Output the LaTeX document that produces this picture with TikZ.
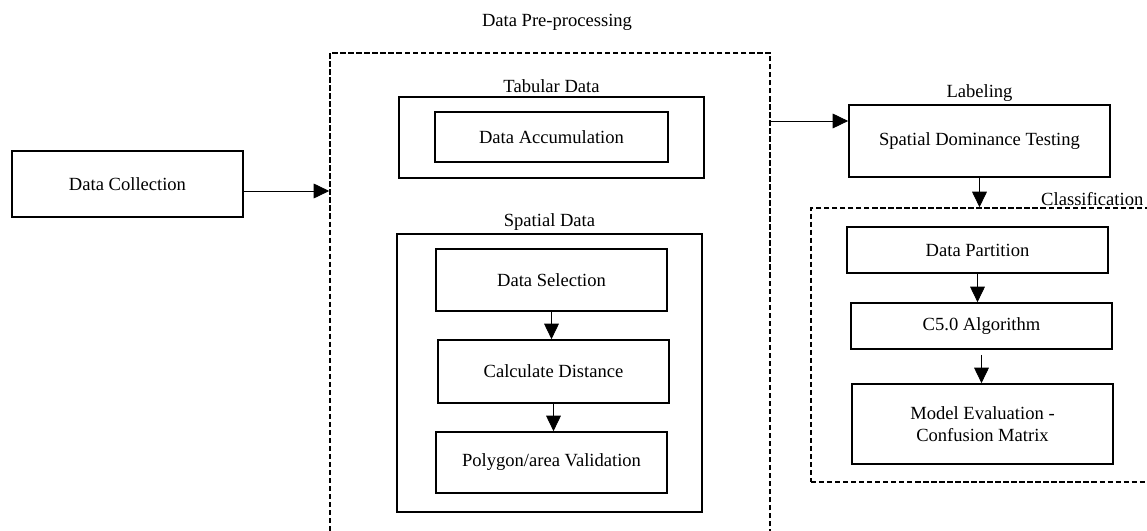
\documentclass[tikz,border=0pt]{standalone}
\usepackage{fontspec}
\setmainfont{Liberation Serif}
\usetikzlibrary{arrows.meta,positioning}
\begin{document}
\begin{tikzpicture}[x=0.025cm, y=-0.025cm,
    font=\fontsize{13.2}{15.5}\selectfont,
    box/.style={draw, line width=1.2pt, rectangle, inner sep=0pt, align=center},
    group/.style={draw, line width=1.1pt, dash pattern=on 3.8pt off 1.9pt, rectangle, inner sep=0pt},
    lbl/.style={inner sep=1pt},
    arr/.style={-{Triangle[length=11pt,width=10.5pt]}, line width=0.6pt}]
    \useasboundingbox (0,0) rectangle (1147,531);
    % Groups
    \node[group, minimum width=11cm, minimum height=12.05cm] (pre) at (550,294) {};
    \node[group, minimum width=8.525cm, minimum height=6.85cm] (cls) at (981.5,345) {};
    \node[lbl] (prelbl) at (557,22) {Data Pre-processing};
    \node[lbl, anchor=south east] (clslbl) at (1145,207) {Classification};
    % Data Collection
    \node[box, minimum width=5.775cm, minimum height=1.65cm] (coll) at (127.5,184) {Data Collection};
    % Tabular Data
    \node[box, minimum width=7.625cm, minimum height=2.025cm] (tab) at (551.5,137.5) {};
    \node[lbl, above=1pt of tab] (tablbl) {Tabular Data};
    \node[box, minimum width=5.825cm, minimum height=1.25cm] (acc) at (551.5,137) {Data Accumulation};
    % Spatial Data
    \node[box, minimum width=7.625cm, minimum height=6.95cm] (spa) at (549.5,373) {};
    \node[lbl, above=1pt of spa] (spalbl) {Spatial Data};
    \node[box, minimum width=5.775cm, minimum height=1.55cm] (sel) at (551.5,280) {Data Selection};
    \node[box, minimum width=5.775cm, minimum height=1.575cm] (dist) at (553.5,371.5) {Calculate Distance};
    \node[box, minimum width=5.775cm, minimum height=1.525cm] (poly) at (551.5,462.5) {Polygon/area Validation};
    % Labeling
    \node[box, minimum width=6.525cm, minimum height=1.8cm] (dom) at (979.5,141) {Spatial Dominance Testing};
    \node[lbl, above=1pt of dom] (domlbl) {Labeling};
    % Classification
    \node[box, minimum width=6.525cm, minimum height=1.15cm] (part) at (977.5,250) {Data Partition};
    \node[box, minimum width=6.525cm, minimum height=1.15cm] (algo) at (981.5,326) {C5.0 Algorithm};
    \node[box, minimum width=6.525cm, minimum height=2cm] (eval) at (982.5,424) {Model Evaluation -\\Confusion Matrix};
    % Arrows
    \coordinate (domin) at ([yshift=0.5cm]dom.west);
    \draw[arr] ([yshift=-0.175cm]coll.east) -- ([yshift=-0.175cm]coll.east -| pre.west);
    \draw[arr] (domin -| pre.east) -- (domin);
    \draw[arr] (sel.south) -- (sel.south |- dist.north);
    \draw[arr] (dist.south) -- (dist.south |- poly.north);
    \draw[arr] (dom.south) -- (dom.south |- cls.north);
    \draw[arr] (part.south) -- (part.south |- algo.north);
    \draw[arr] ([yshift=-0.125cm]algo.south) -- (algo.south |- eval.north);
\end{tikzpicture}
\end{document}
